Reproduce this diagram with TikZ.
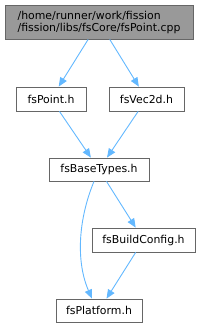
\documentclass[tikz,border=0pt]{standalone}
\usepackage{fontspec}
\setmainfont{DejaVu Sans}
\usetikzlibrary{arrows.meta}
\definecolor{edgeblue}{HTML}{63B8FF}
\definecolor{boxborder}{HTML}{666666}
\definecolor{topfill}{HTML}{999999}
\tikzset{
  filebox/.style={draw=boxborder, line width=0.8pt, fill=white, rectangle, inner sep=0pt,
    font=\fontsize{10.9}{12}\selectfont, text=black},
  edge/.style={draw=edgeblue, line width=0.9pt, -{Triangle[length=9pt,width=7.5pt]}},
}
\begin{document}
\begin{tikzpicture}[x=1pt,y=-1pt]
\useasboundingbox (0,0) rectangle (202,328);
\node[filebox, fill=topfill, minimum width=188pt, minimum height=34pt, align=left] (top) at (99,22)
  {/home/runner/work/fission\\/fission/libs/fsCore/fsPoint.cpp};
\node[filebox, minimum width=70pt, minimum height=24pt] (pt) at (51,99) {fsPoint.h};
\node[filebox, minimum width=75pt, minimum height=24pt] (vec) at (146.5,99) {fsVec2d.h};
\node[filebox, minimum width=100pt, minimum height=23pt] (base) at (99,169.5) {fsBaseTypes.h};
\node[filebox, minimum width=103pt, minimum height=24pt] (build) at (143.5,240) {fsBuildConfig.h};
\node[filebox, minimum width=86pt, minimum height=23pt] (plat) at (99,310.5) {fsPlatform.h};
\draw[edge] (top) -- (pt);
\draw[edge] (top) -- (vec);
\draw[edge] (pt) -- (base);
\draw[edge] (vec) -- (base);
\draw[edge] (base) -- (build);
\draw[edge] (build) -- (plat);
\draw[edge] ([xshift=-5pt]base.south) .. controls (78,220) and (76,262) .. ([xshift=-7pt]plat.north);
\end{tikzpicture}
\end{document}
